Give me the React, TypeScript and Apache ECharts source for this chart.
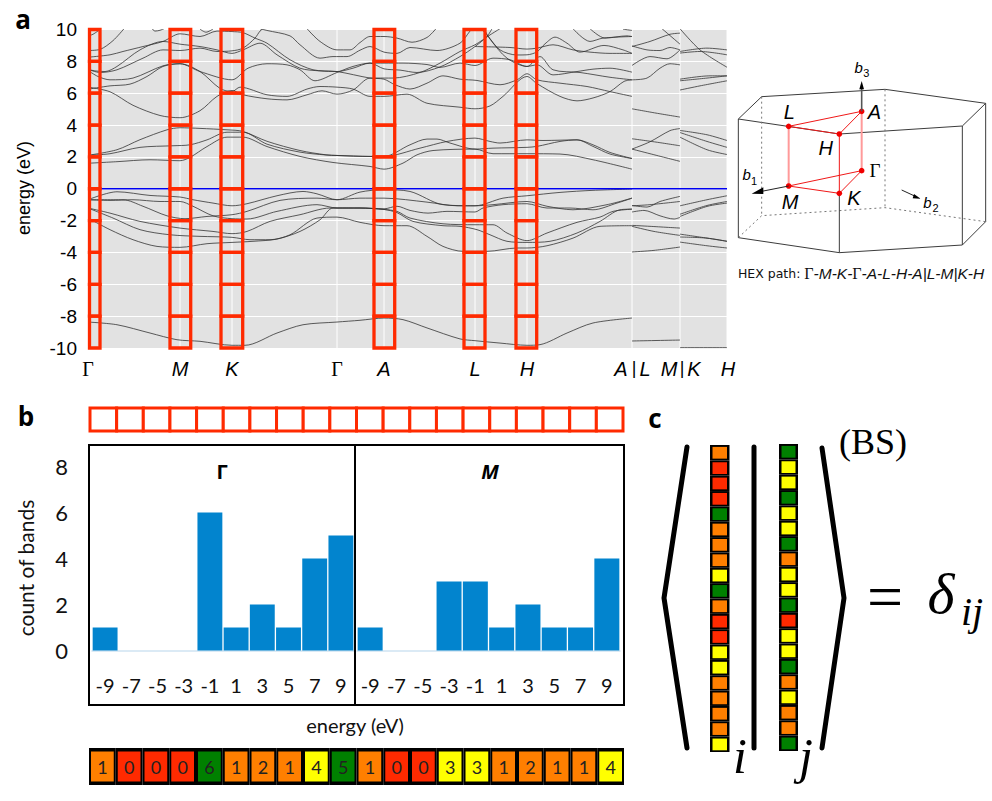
import React, { useEffect, useRef } from "react";
import * as echarts from "echarts";

// ---- panel a: band structure ----
const energyTicks = [-10, -8, -6, -4, -2, 0, 2, 4, 6, 8];
const symmetryK = [0, 92, 144, 249, 296, 387, 439];
const symmetryLabels = ["Γ", "M", "K", "Γ", "A", "L", "H"];
const frameSpans = [[1.5, 12], [82, 102.7], [133, 154.7], [286, 306.7], [376, 397], [428, 448.7]];

const v0 = [[0,-8.37],[29,-8.54],[62,-9.06],[89,-9.48],[112,-9.58],[144,-9.83],[157,-9.83],[189,-9.06],[215,-8.54],[249,-8.37],[272,-8.26],[296,-8.12],[315,-8.22],[339,-8.74],[372,-9.43],[387,-9.54],[412,-9.69],[439,-9.83],[452,-9.79],[479,-9.06],[505,-8.43],[544,-8.12]];
const v1 = [[0,-0.69],[29,-0.19],[62,-0.42],[92,-0.52],[105,-0.69],[125,-0.9],[144,-1.07],[159,-0.94],[189,-0.44],[215,-0.17],[229,-0.32],[249,-0.69],[272,-0.21],[296,-0.06],[322,-0.17],[355,-1.0],[387,-1.07],[415,-0.59],[439,-0.44],[472,-0.23],[505,-0.1],[544,-0.02]];
const v2 = [[0,-0.69],[35,-0.69],[55,-1.1],[79,-1.7],[97,-1.88],[119,-1.74],[144,-1.63],[159,-1.42],[192,-0.73],[229,-0.59],[249,-0.69],[272,-0.59],[296,-0.59],[339,-0.84],[369,-1.07],[387,-1.07],[405,-1.0],[439,-0.8],[459,-1.1],[485,-1.32],[519,-1.0],[544,-0.59]];
const v3 = [[0,-0.69],[22,-0.73],[45,-0.69],[72,-0.8],[92,-0.8],[105,-1.1],[125,-1.7],[144,-1.88],[159,-1.9],[189,-1.42],[229,-1.0],[249,-1.21],[272,-1.21],[296,-1.26],[309,-1.1],[322,-1.36],[340,-1.53],[359,-1.42],[387,-1.46],[395,-1.21],[415,-1.0],[439,-0.94],[459,-1.21],[482,-1.21],[505,-1.32],[529,-0.9],[544,-0.59]];
const v4 = [[0,-1.21],[22,-1.53],[52,-2.05],[92,-2.47],[125,-2.68],[144,-2.82],[159,-2.68],[182,-2.05],[212,-1.63],[242,-1.21],[272,-1.21],[296,-1.3],[309,-1.42],[322,-1.84],[355,-2.2],[387,-2.26],[405,-2.26],[419,-2.78],[439,-3.26],[459,-2.78],[489,-2.11],[512,-1.78],[525,-1.42],[544,-1.28]];
const v5 = [[0,-1.21],[25,-1.84],[52,-2.57],[82,-2.89],[112,-2.99],[144,-3.05],[162,-3.2],[182,-3.2],[202,-2.89],[229,-1.84],[249,-1.78],[272,-2.11],[296,-2.32],[319,-2.32],[339,-2.99],[355,-3.62],[375,-3.93],[399,-3.93],[429,-3.72],[439,-3.72],[459,-3.58],[485,-3.1],[512,-2.36],[544,-2.32]];
const v6 = [[0,-1.84],[22,-2.57],[45,-3.2],[69,-3.62],[92,-3.68],[119,-3.45],[144,-3.37],[165,-3.3],[189,-3.16],[212,-2.68],[232,-1.95],[245,-1.21],[272,-1.21],[296,-1.3],[309,-1.5],[325,-2.05],[355,-2.32],[372,-2.36],[389,-2.57],[402,-2.89],[419,-3.3],[439,-3.37],[462,-3.3],[489,-2.78],[512,-2.05],[532,-1.32],[544,-1.28]];
const c1 = [[0,2.1],[29,2.45],[52,3.08],[79,3.7],[92,3.83],[112,3.79],[139,3.7],[155,3.6],[179,2.98],[212,2.4],[238,2.13],[249,2.09],[282,2.03],[296,2.03],[322,2.76],[339,3.12],[349,3.12],[362,2.87],[387,2.49],[405,2.55],[439,2.6],[449,2.66],[472,2.97],[489,3.07],[505,2.66],[522,2.18],[544,1.9]];
const c2 = [[0,2.1],[22,2.2],[52,2.6],[85,2.7],[102,2.76],[119,3.07],[139,3.55],[155,3.55],[179,2.8],[212,2.3],[238,2.12],[249,2.09],[282,2.03],[296,2.03],[332,2.55],[359,2.97],[387,3.18],[402,2.97],[412,2.87],[439,3.07],[455,3.03],[489,3.07],[505,2.76],[522,2.28],[544,1.9]];
const c3 = [[0,1.6],[29,1.7],[62,1.82],[92,1.76],[102,1.97],[119,2.65],[139,3.24],[155,3.24],[179,2.65],[212,2.03],[245,1.65],[282,1.4],[296,1.23],[315,1.61],[329,2.13],[345,2.4],[387,2.49],[405,2.2],[439,2.2],[472,2.18],[505,1.82],[544,1.23]];
const u1 = [[0,6.38],[22,6.09],[45,5.24],[72,4.6],[92,4.46],[112,4.9],[129,5.8],[144,6.17],[155,5.9],[179,5.65],[199,5.58],[219,5.9],[234,6.15],[249,5.94],[265,6.2],[282,6.95],[296,6.95],[305,6.95],[332,7.3],[352,7.89],[372,8.62],[387,9.04],[402,9.66],[412,10.05]];
const u2 = [[0,6.25],[22,6.46],[42,6.57],[59,7.05],[75,7.68],[92,7.85],[112,7.36],[132,6.3],[144,6.1],[152,6.38],[179,5.9],[199,5.8],[219,6.26],[232,6.42],[249,6.38],[265,6.26],[282,5.8],[296,5.8],[319,5.94],[339,5.37],[372,5.12],[387,5.02],[402,5.2],[415,5.8],[439,7.05],[449,6.6],[472,5.8],[489,5.52],[505,5.7],[522,6.1],[536,6.74],[544,6.84]];
const u3 = [[0,7.43],[10,7.05],[22,6.84],[45,6.95],[75,7.72],[92,7.85],[112,7.36],[144,6.84],[160,7.57],[179,7.85],[199,7.78],[212,7.47],[227,6.78],[249,7.3],[265,7.68],[282,7.89],[296,7.53],[312,7.45],[329,7.3],[352,7.65],[372,8.3],[387,8.93],[399,9.56],[404,10.05]];
const u4 = [[0,8.26],[22,8.41],[35,8.62],[55,8.93],[75,9.25],[92,9.73],[112,9.56],[129,9.9],[144,9.87],[155,9.8],[167,9.46],[179,9.14],[202,8.1],[225,7.47],[249,7.36],[282,6.95],[296,6.88],[307,6.53],[322,6.26],[339,6.63],[355,7.09],[372,6.88],[389,6.8],[412,6.53],[429,6.84],[439,7.22],[449,6.84],[472,6.63],[499,6.42],[522,6.1],[544,5.8]];
const u5 = [[0,7.5],[7,7.4],[17,7.36],[29,7.68],[52,8.72],[75,9.25],[92,9.08],[112,8.93],[129,8.72],[144,8.5],[155,8.72],[172,9.14],[189,8.41],[212,7.57],[232,7.4],[249,7.36],[265,7.57],[282,7.89],[296,7.89],[315,7.89],[339,7.8],[352,7.62],[372,7.89],[387,7.74],[405,8.2],[422,8.1],[439,7.68],[449,7.78],[465,7.15],[489,7.36],[505,7.51],[522,7.57],[544,7.32]];
const u6 = [[0,7.5],[12,7.3],[29,7.47],[55,8.2],[75,8.72],[92,8.68],[112,8.83],[129,8.62],[144,8.66],[155,8.83],[167,9.46],[172,9.9],[176,10.1]];
const u7 = [[172,10.05],[179,9.94],[202,9.6],[212,9.04],[232,8.2],[245,8.3],[259,8.3],[272,8.7],[282,8.93],[296,8.58],[309,8.5],[322,8.87],[349,8.68],[372,9.14],[382,9.9],[387,10.2]];
const u8 = [[219,10.05],[232,9.25],[249,8.72],[262,8.72],[272,9.18],[282,9.56],[296,9.56],[309,9.46],[324,9.2],[339,9.5],[348,10.05]];
const u9 = [[393,10.05],[399,9.66],[412,8.72],[429,8.4],[439,8.41],[449,8.6],[457,9.1],[467,9.52],[479,9.14],[492,8.58],[516,9.0],[535,8.72],[544,8.5]];
const u10 = [[396,10.05],[402,9.4],[419,8.2],[439,7.68],[452,8.3],[465,7.47],[492,7.3],[522,7.0],[544,6.84]];
const u11 = [[387,8.93],[422,8.87],[439,8.77],[449,8.83],[465,9.04],[485,8.72],[502,8.58],[522,8.5],[544,8.5]];
const u12 = [[485,10.05],[502,9.25],[515,9.46],[544,9.56]];
const u13 = [[502,10.05],[517,9.46],[539,9.6],[544,9.56]];
const u14 = [[535,10.02],[544,9.94]];
const u15 = [[0,9.6],[5,9.7],[13,10.05]];
const u16 = [[0,8.68],[12,8.75],[25,9.3],[36,10.05]];
const u17 = [[64,10.05],[67,9.9],[72,9.95],[76,10.05]];
const u18 = [[112,10.02],[118,9.83],[125,10.03]];
const bandsMain = [v0,v1,v2,v3,v4,v5,v6,c1,c2,c3,u1,u2,u3,u4,u5,u6,u7,u8,u9,u10,u11,u12,u13,u14,u15,u16,u17,u18];

const bandsLM = [
  [[0,8.93],[18,9.25],[38,9.7],[48,9.77]],
  [[0,8.97],[15,8.72],[28,8.68],[38,8.87],[48,8.72]],
  [[0,7.74],[18,8.3],[35,8.16],[48,8.72]],
  [[0,6.84],[15,6.95],[28,7.57],[38,7.85],[48,7.78]],
  [[30,10.05],[48,9.08]],
  [[0,5.02],[24,4.75],[48,4.5]],
  [[0,3.14],[24,2.93],[48,2.7]],
  [[0,2.49],[18,2.95],[38,3.65],[48,3.78]],
  [[0,2.49],[18,2.2],[48,1.72]],
  [[0,-1.05],[15,-1.15],[28,-0.8],[48,-0.48]],
  [[0,-1.07],[18,-1.0],[48,-0.8]],
  [[0,-1.46],[12,-1.36],[28,-1.7],[42,-1.9],[48,-1.8]],
  [[0,-2.3],[18,-2.36],[48,-2.47]],
  [[0,-2.36],[22,-2.68],[48,-2.93]],
  [[0,-3.97],[22,-3.87],[48,-3.66]],
  [[0,-9.56],[48,-9.5]],
];
const bandsKH = [
  [[0,10.05],[20,8.72],[47,7.63]],
  [[0,8.62],[27,8.83],[47,8.72]],
  [[0,8.52],[20,8.62],[47,8.41]],
  [[0,6.88],[30,7.09],[47,7.09]],
  [[0,6.78],[27,6.95],[47,7.09]],
  [[0,6.2],[20,6.46],[47,6.78]],
  [[0,3.66],[27,3.39],[47,3.03]],
  [[0,3.53],[27,2.97],[47,2.6]],
  [[0,3.24],[27,2.45],[47,2.15]],
  [[0,-1.07],[27,-0.69],[47,-0.44]],
  [[0,-1.6],[27,-1.05],[47,-0.8]],
  [[0,-1.74],[27,-1.11],[47,-0.9]],
  [[0,-2.85],[27,-3.1],[47,-3.3]],
  [[0,-3.03],[27,-3.1],[47,-3.3]],
  [[0,-3.35],[27,-3.58],[47,-3.72]],
  [[0,-9.98],[47,-9.98]],
];

// ---- panel b: histograms ----
const energyBins = ["-9","-7","-5","-3","-1","1","3","5","7","9"];
const countsGamma = [1,0,0,0,6,1,2,1,4,5];
const countsM = [1,0,0,3,3,1,2,1,1,4];
const countTicks = [0,2,4,6,8];

// ---- panel c: colour vectors ----
const vectorI = [...countsGamma, ...countsM];
const vectorJ = [5,3,3,5,3,3,5,1,3,3,5,0,3,3,5,1,3,1,1,5];
const RED = "#ff2a00", ORANGE = "#ff7f00", YELLOW = "#ffff00", GREEN = "#008000";
const colorOf = (n: number) => (n === 0 ? RED : n <= 2 ? ORANGE : n <= 4 ? YELLOW : GREEN);

const SANS = "Liberation Sans, Arial, sans-serif";
const SERIF = "Liberation Serif, Times New Roman, serif";
const LATO = "Lato, sans-serif";

function buildHexagon() {
  const P = (x: number, y: number) => [730 + x / 3, 50 + y / 3];
  const g: any[] = [];
  const poly = (pts: number[][], stroke: string, lineWidth: number, dash?: number[]) =>
    g.push({ type: "polyline", silent: true, shape: { points: pts.map((p) => P(p[0], p[1])) },
      style: { stroke, lineWidth, fill: "none", lineDash: dash } });
  const dark = "#3c3c3c";
  poly([[25,207],[95,140],[465,118],[767,160],[697,228],[328,252],[25,207]], dark, 1);
  poly([[25,563],[328,608],[697,585],[767,515]], dark, 1);
  poly([[25,563],[95,497],[465,473],[767,515]], "#777", 1, [2, 3]);
  poly([[25,207],[25,563]], dark, 1);
  poly([[328,430],[328,608]], dark, 1);
  poly([[697,228],[697,585]], dark, 1);
  poly([[767,160],[767,515]], dark, 1);
  poly([[95,140],[95,497]], "#777", 1, [2, 3]);
  poly([[465,118],[465,473]], "#777", 1, [2, 3]);
  const L=[176,229],A=[395,184],H=[328,252],G=[395,362],M=[176,408],K=[328,430];
  poly([L,A,H,L], "#f01818", 1);
  poly([G,M,K,G], "#f01818", 1);
  poly([H,K], "#f01818", 1);
  poly([L,M], "#ff9a9a", 2);
  poly([A,G], "#ff9a9a", 2);
  [L,A,H,G,M,K].forEach((p) => {
    const c = P(p[0], p[1]);
    g.push({ type: "circle", silent: true, shape: { cx: c[0], cy: c[1], r: 2.8 }, style: { fill: "#f00000" } });
  });
  poly([[395,184],[395,112]], "#555", 1.6);
  poly([M,[90,425]], "#222", 1);
  poly([[515,420],[556,439]], "#222", 1);
  const head = (pts: number[][]) =>
    g.push({ type: "polygon", silent: true, shape: { points: pts.map((p) => P(p[0], p[1])) }, style: { fill: "#000" } });
  head([[395,93],[388,118],[402,118]]);
  head([[65,431],[100,412],[100,432]]);
  head([[572,446],[552,432],[548,445]]);
  const txt = (s: string, p: number[], font: number, family = SANS, style = "italic") => {
    const c = P(p[0], p[1]);
    g.push({ type: "text", silent: true, x: c[0], y: c[1],
      style: { text: s, fontFamily: family, fontSize: font, fontStyle: style, fill: "#000", align: "center", verticalAlign: "middle" } });
  };
  txt("L", [178,187], 20); txt("A", [433,187], 20); txt("H", [287,295], 20);
  txt("Γ", [435,362], 19, SERIF, "normal"); txt("M", [180,457], 20); txt("K", [372,443], 20);
  txt("b", [386,52], 15); txt("3", [409,70], 11, SANS, "normal");
  txt("b", [50,374], 15); txt("1", [72,392], 11, SANS, "normal");
  txt("b", [592,458], 15); txt("2", [617,475], 11, SANS, "normal");
  g.push({ type: "text", silent: true, x: 861, y: 273,
    style: { text: "{a|HEX path: }{g|Γ}{i|-M-K-}{g|Γ}{i|-A-L-H-A|L-M|K-H}", align: "center", verticalAlign: "middle",
      rich: {
        a: { fontFamily: "DejaVu Sans", fontSize: 12.5, fill: "#111" },
        g: { fontFamily: SERIF, fontSize: 16, fill: "#111" },
        i: { fontFamily: "Liberation Sans", fontStyle: "italic", fontSize: 15.5, fill: "#111" },
      } } });
  return g;
}

function buildGraphics() {
  const t = (s: string, x: number, y: number, font: number, family: string, extra: any = {}, rot = 0) => ({
    type: "text", silent: true, x, y, rotation: rot,
    style: { text: s, fontFamily: family, fontSize: font, fill: "#000", align: "center", verticalAlign: "middle", ...extra },
  });
  const line = (pts: number[][], w: number) => ({
    type: "polyline", silent: true, z: 5, shape: { points: pts },
    style: { stroke: "#000", lineWidth: w, fill: "none", lineCap: "round", lineJoin: "miter" },
  });
  return [
    t("a", 23, 19, 26, "Open Sans", { fontWeight: "bold" }),
    t("b", 26, 416, 26, "Open Sans", { fontWeight: "bold" }),
    t("c", 655, 418, 26, "Open Sans", { fontWeight: "bold" }),
    t("energy (eV)", 24, 188, 18, SANS, {}, Math.PI / 2),
    t("A", 621, 369, 20, SANS, { fontStyle: "italic" }),
    t("|", 634, 368, 18, SANS),
    t("L", 645, 369, 20, SANS, { fontStyle: "italic" }),
    t("M", 669, 369, 20, SANS, { fontStyle: "italic" }),
    t("|", 682, 368, 18, SANS),
    t("K", 694, 369, 20, SANS, { fontStyle: "italic" }),
    t("H", 728, 369, 20, SANS, { fontStyle: "italic" }),
    ...buildHexagon(),
    // panel b frame and captions
    { type: "rect", silent: true, z: 5, shape: { x: 89, y: 445, width: 535, height: 260 }, style: { fill: "none", stroke: "#000", lineWidth: 2 } },
    { type: "line", silent: true, z: 5, shape: { x1: 355, y1: 445, x2: 355, y2: 705 }, style: { stroke: "#000", lineWidth: 2 } },
    t("Γ", 222, 471, 20, "Open Sans", { fontWeight: "bold" }),
    t("M", 490, 471, 20, "Open Sans", { fontWeight: "bold", fontStyle: "italic" }),
    t("count of bands", 25, 568, 21, LATO, { fill: "#111" }, Math.PI / 2),
    t("energy (eV)", 355, 725, 20, LATO, { fill: "#111" }),
    // panel c brackets and formula
    line([[687,447],[664,598],[687,748]], 5),
    line([[754,447],[754,748]], 5),
    line([[822,448],[844,598],[822,748]], 5),
    t("(BS)", 873, 442, 36, SERIF),
    t("=", 885, 596, 64, SERIF),
    t("δ", 941, 593, 58, SERIF, { fontStyle: "italic" }),
    t("ij", 972, 611, 40, SERIF, { fontStyle: "italic" }),
    t("i", 740, 756, 50, SERIF, { fontStyle: "italic" }),
    t("j", 806, 756, 50, SERIF, { fontStyle: "italic" }),
  ];
}

export default function App() {
  const ref = useRef<HTMLDivElement>(null);
  useEffect(() => {
    document.body.style.margin = "0";
    const chart = echarts.init(ref.current!, null, { renderer: "svg" });

    const gridBand = { show: true, backgroundColor: "#e2e2e2", borderWidth: 0, top: 29.5, height: 318.5 };
    const grid: any[] = [
      { ...gridBand, left: 88, width: 544 },
      { ...gridBand, left: 632, width: 48 },
      { ...gridBand, left: 680, width: 47 },
      { left: 92, width: 262, top: 466.5, height: 184 },
      { left: 357, width: 263, top: 466.5, height: 184 },
      { left: 90, width: 533, top: 408, height: 23 },
      { left: 89, width: 535, top: 748, height: 37 },
      { left: 710, width: 19.5, top: 445, height: 307 },
      { left: 779, width: 19, top: 444, height: 307 },
    ];

    const hiddenVal = (gridIndex: number, min: number, max: number) => ({
      type: "value", gridIndex, min, max, show: false, splitLine: { show: false },
    });
    const hiddenCat = (gridIndex: number, data: any[], inverse = false) => ({
      type: "category", gridIndex, data, show: false, inverse,
    });
    const bins20 = vectorI.map((_, i) => String(i));

    const xAxis: any[] = [
      {
        type: "value", gridIndex: 0, min: 0, max: 544,
        axisLine: { show: false }, axisTick: { show: false }, splitLine: { show: false },
        axisLabel: {
          customValues: symmetryK, margin: 11,
          formatter: (v: number) => {
            const s = symmetryLabels[symmetryK.indexOf(v)];
            return s === "Γ" ? `{g|${s}}` : `{i|${s}}`;
          },
          rich: {
            g: { fontFamily: SERIF, fontSize: 20, color: "#000" },
            i: { fontFamily: SANS, fontStyle: "italic", fontSize: 20, color: "#000" },
          },
        },
      },
      hiddenVal(1, 0, 48),
      hiddenVal(2, 0, 47),
      ...[3, 4].map((gridIndex) => ({
        type: "category", gridIndex, data: energyBins,
        axisLine: { lineStyle: { color: "#cfe3f2", width: 1.5 } },
        axisTick: { show: false },
        axisLabel: { interval: 0, margin: 24, fontFamily: LATO, fontSize: 20, color: "#111" },
      })),
      hiddenCat(5, bins20),
      hiddenCat(6, bins20),
      hiddenVal(7, 0, 1),
      hiddenVal(8, 0, 1),
    ];

    const yBand = (gridIndex: number, showLabel: boolean) => ({
      type: "value", gridIndex, min: -10, max: 10, interval: 2,
      axisLine: { show: false }, axisTick: { show: false },
      splitLine: { show: true, lineStyle: { color: "#ffffff", width: 1 } },
      axisLabel: { show: showLabel, fontFamily: SANS, fontSize: 19, color: "#000", margin: 11 },
    });
    const yAxis: any[] = [
      yBand(0, true),
      yBand(1, false),
      yBand(2, false),
      {
        type: "value", gridIndex: 3, min: 0, max: 8, interval: 2,
        axisLine: { show: false }, axisTick: { show: false }, splitLine: { show: false },
        axisLabel: { customValues: countTicks, margin: 24, fontFamily: LATO, fontSize: 22, color: "#111" },
      },
      hiddenVal(4, 0, 8),
      hiddenVal(5, 0, 1),
      hiddenVal(6, 0, 1),
      hiddenCat(7, bins20, true),
      hiddenCat(8, bins20, true),
    ];

    const bandSeries = (data: number[][], idx: number) => ({
      type: "line", xAxisIndex: idx, yAxisIndex: idx, data, showSymbol: false, symbol: "none",
      smooth: 0.3, z: 2, silent: true,
      lineStyle: { color: "#333333", width: 0.8 },
    });
    const zero = (max: number, idx: number) => ({
      type: "line", xAxisIndex: idx, yAxisIndex: idx, data: [[0, 0], [max, 0]], showSymbol: false,
      symbol: "none", z: 3, silent: true, lineStyle: { color: "#0000f0", width: 1.6 },
    });

    const verticals = {
      type: "custom", xAxisIndex: 0, yAxisIndex: 0, z: 1, silent: true,
      data: [...symmetryK, 544].map((k) => [k]),
      renderItem: (_: any, api: any) => {
        const a = api.coord([api.value(0), -10]);
        const b = api.coord([api.value(0), 10]);
        return { type: "line", shape: { x1: a[0], y1: a[1], x2: b[0], y2: b[1] }, style: { stroke: "#fff", lineWidth: 1 } };
      },
    };
    const verticalsKH = {
      type: "custom", xAxisIndex: 2, yAxisIndex: 2, z: 1, silent: true,
      data: [[0], [47]],
      renderItem: verticals.renderItem,
    };

    const frameCells: number[][] = [];
    frameSpans.forEach(([a, b]) =>
      energyTicks.forEach((e) => frameCells.push([a, b, e, e + 2]))
    );
    const frames = {
      type: "custom", xAxisIndex: 0, yAxisIndex: 0, z: 4, silent: true, data: frameCells,
      renderItem: (_: any, api: any) => {
        const a = api.coord([api.value(0), api.value(3)]);
        const b = api.coord([api.value(1), api.value(2)]);
        return {
          type: "rect", shape: { x: a[0], y: a[1], width: b[0] - a[0], height: b[1] - a[1] },
          style: { fill: "none", stroke: RED, lineWidth: 3.3 },
        };
      },
    };

    const bars = (data: number[], idx: number) => ({
      type: "bar", xAxisIndex: idx, yAxisIndex: idx, data, barCategoryGap: "5%", silent: true,
      itemStyle: { color: "#0284ce" },
    });

    const topStrip = {
      type: "custom", xAxisIndex: 5, yAxisIndex: 5, silent: true,
      data: vectorI.map((_, i) => [i]),
      renderItem: (_: any, api: any) => {
        const p = api.coord([api.value(0), 1]);
        const s = api.size([1, 1]);
        return {
          type: "rect", shape: { x: p[0] - s[0] / 2, y: p[1], width: s[0], height: s[1] },
          style: { fill: "#fff", stroke: RED, lineWidth: 3 },
        };
      },
    };
    const bottomStrip = {
      type: "custom", xAxisIndex: 6, yAxisIndex: 6, silent: true,
      data: vectorI.map((n, i) => [i, n]),
      renderItem: (_: any, api: any) => {
        const p = api.coord([api.value(0), 1]);
        const s = api.size([1, 1]);
        const n = api.value(1);
        return {
          type: "group",
          children: [
            { type: "rect", shape: { x: p[0] - s[0] / 2, y: p[1], width: s[0], height: s[1] }, style: { fill: "#000" } },
            { type: "rect", shape: { x: p[0] - s[0] / 2 + 2, y: p[1] + 3.5, width: s[0] - 4, height: s[1] - 7 }, style: { fill: colorOf(n) } },
            { type: "text", style: { x: p[0], y: p[1] + s[1] / 2, text: String(n), fontFamily: LATO, fontSize: 18, fill: "#222", align: "center", verticalAlign: "middle" } },
          ],
        };
      },
    };
    const column = (values: number[], idx: number) => ({
      type: "custom", xAxisIndex: idx, yAxisIndex: idx, silent: true,
      data: values.map((n, i) => [i, n]),
      renderItem: (_: any, api: any) => {
        const p = api.coord([0, api.value(0)]);
        const s = api.size([1, 1]);
        return {
          type: "group",
          children: [
            { type: "rect", shape: { x: p[0], y: p[1] - s[1] / 2, width: s[0], height: s[1] }, style: { fill: "#000" } },
            { type: "rect", shape: { x: p[0] + 2.5, y: p[1] - s[1] / 2 + 1.9, width: s[0] - 5, height: s[1] - 3.6 }, style: { fill: colorOf(api.value(1)) } },
          ],
        };
      },
    });

    chart.setOption({
      animation: false,
      backgroundColor: "#ffffff",
      grid, xAxis, yAxis,
      graphic: buildGraphics(),
      series: [
        verticals, verticalsKH,
        ...bandsMain.map((b) => bandSeries(b, 0)),
        ...bandsLM.map((b) => bandSeries(b, 1)),
        ...bandsKH.map((b) => bandSeries(b, 2)),
        zero(544, 0), zero(48, 1), zero(47, 2),
        frames,
        bars(countsGamma, 3), bars(countsM, 4),
        topStrip, bottomStrip,
        column(vectorI, 7), column(vectorJ, 8),
      ],
    });
    return () => chart.dispose();
  }, []);
  return <div ref={ref} style={{ position: "absolute", left: 0, top: 0, width: 992, height: 801 }} />;
}
